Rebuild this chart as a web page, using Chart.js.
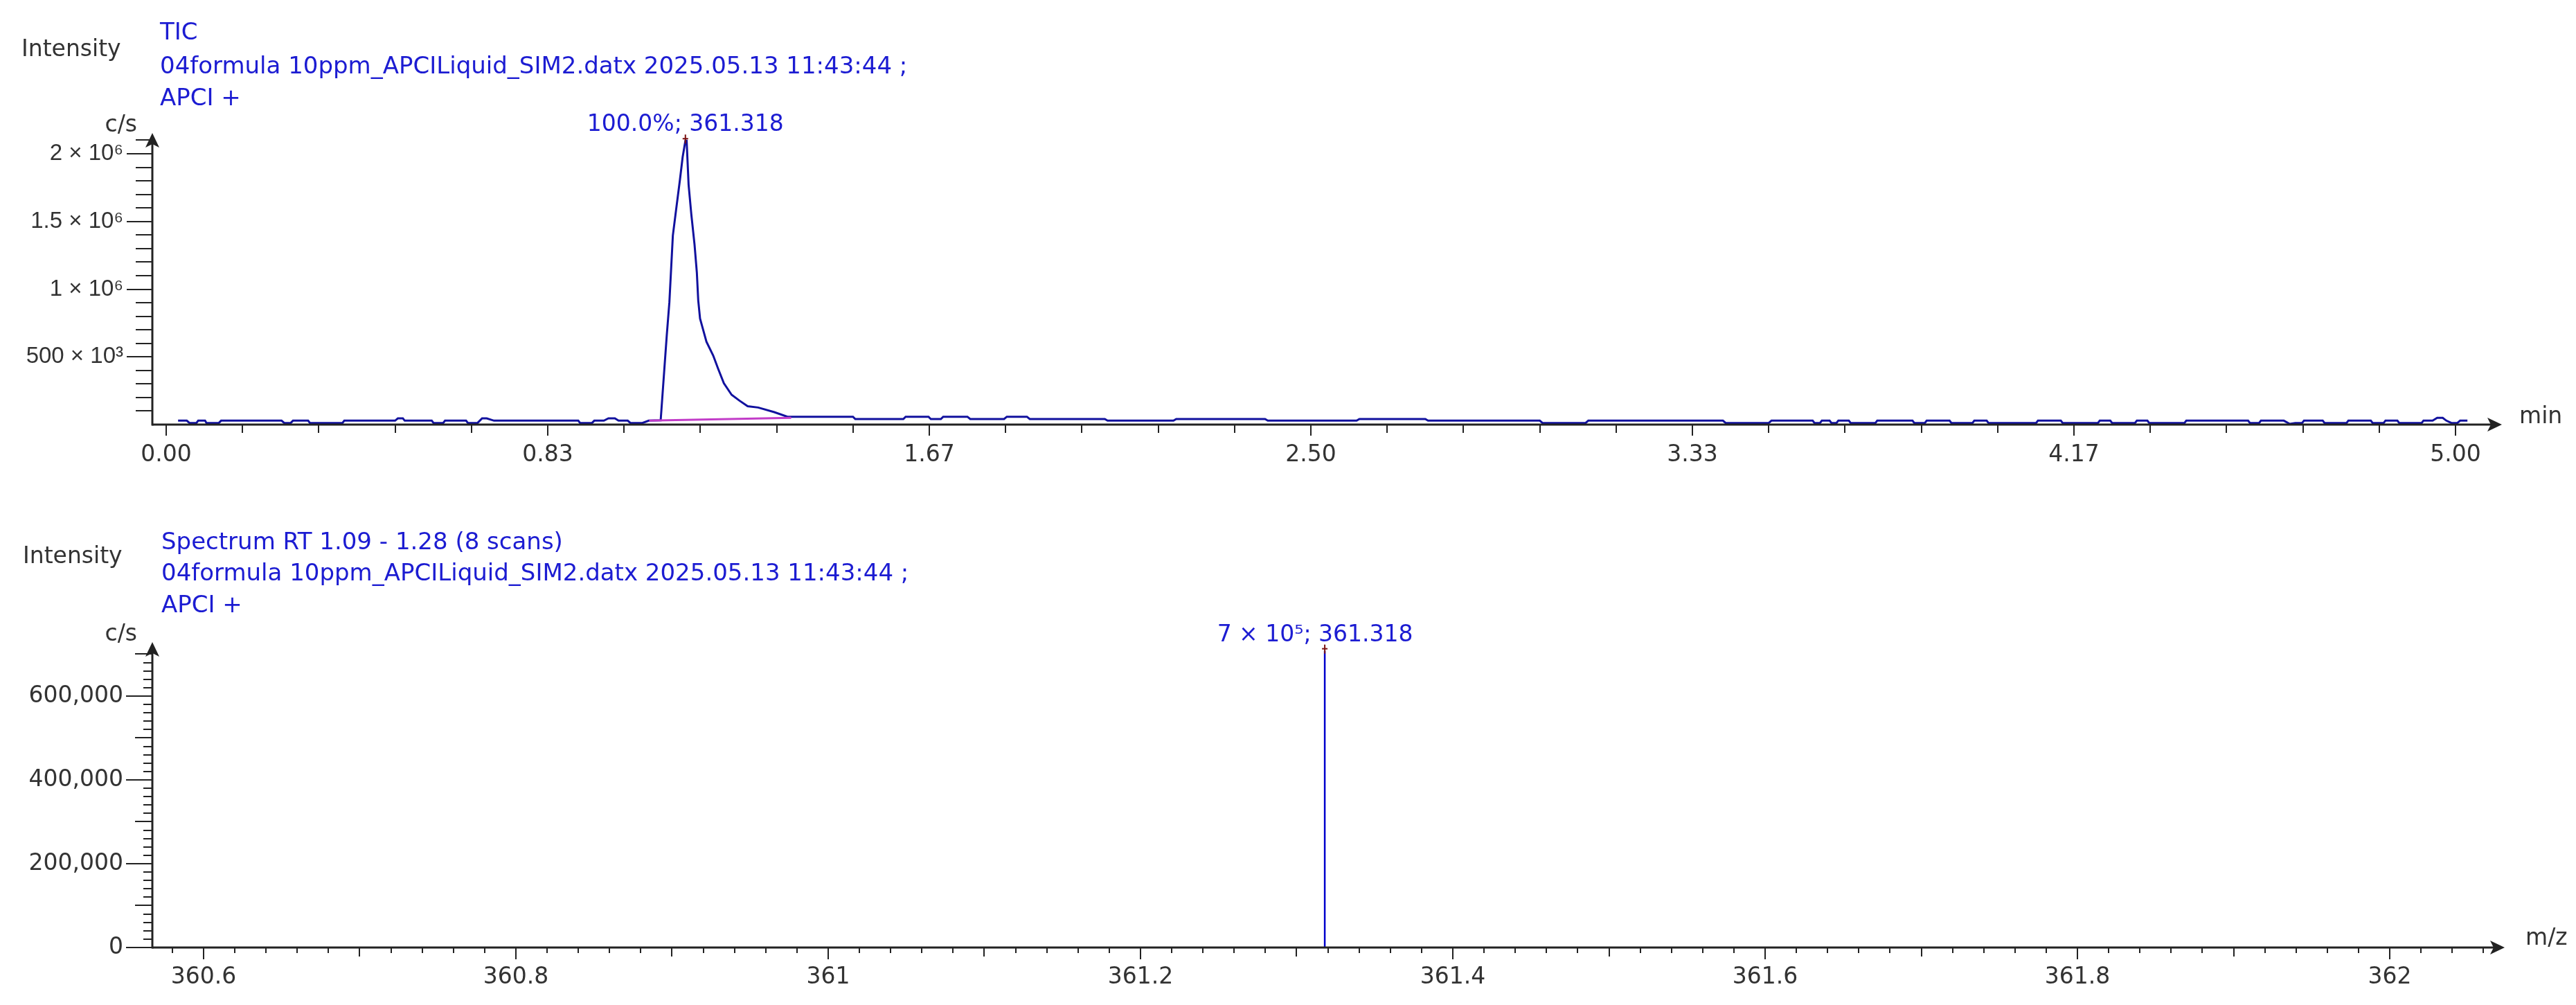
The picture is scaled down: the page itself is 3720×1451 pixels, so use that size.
<!DOCTYPE html>
<html><head><meta charset="utf-8">
<script src="https://cdn.jsdelivr.net/npm/chart.js@4.4.1/dist/chart.umd.min.js"></script>
<style>
html,body{margin:0;padding:0;background:#fff;}
#wrap{position:relative;width:3720px;height:1451px;background:#fff;}
.box{position:absolute;left:0;width:3720px;}
</style></head><body>
<div id="wrap">
<div class="box" style="top:0;height:700px"><canvas id="c1" width="3720" height="700"></canvas></div>
<div class="box" style="top:700px;height:751px"><canvas id="c2" width="3720" height="751"></canvas></div>
</div>
<script>
// ---------------- DATA ----------------
// TIC chromatogram (retention time in min, intensity in c/s)
const ticTime = [
0.026,0.045,0.051,0.066,0.070,0.085,0.088,0.115,0.120,0.252,0.258,0.272,0.277,0.310,0.314,0.385,0.389,0.500,0.506,0.517,
0.521,0.580,0.584,0.605,0.609,0.655,0.659,0.680,0.690,0.700,0.716,0.900,0.904,0.930,0.935,0.956,0.966,0.980,0.988,1.008,
1.014,1.040,1.054,1.080,1.0876,1.0934,1.099,1.1066,1.1136,1.122,1.128,1.134,1.1367,1.141,1.147,1.154,1.159,1.162,1.166,1.1715,
1.180,1.1947,1.206,1.218,1.235,1.252,1.270,1.293,1.328,1.357,1.397,1.500,1.505,1.610,1.615,1.665,1.670,1.692,1.697,1.750,
1.756,1.830,1.836,1.880,1.886,2.050,2.056,2.200,2.206,2.400,2.406,2.600,2.606,2.750,2.756,3.000,3.006,3.100,3.106,3.400,
3.406,3.500,3.506,3.596,3.600,3.612,3.616,3.633,3.637,3.648,3.652,3.675,3.679,3.733,3.737,3.814,3.818,3.841,3.845,3.895,
3.899,3.945,3.949,3.976,3.980,4.084,4.088,4.138,4.142,4.219,4.223,4.246,4.250,4.300,4.304,4.327,4.331,4.408,4.412,4.547,
4.551,4.571,4.575,4.625,4.638,4.650,4.665,4.669,4.710,4.714,4.762,4.766,4.815,4.819,4.843,4.847,4.873,4.877,4.926,4.930,
4.950,4.960,4.972,4.980,4.991,5.004,5.010,5.026
];
const ticIntensity = [
29000,29000,12000,12000,29000,29000,12000,12000,29000,29000,12000,12000,29000,29000,12000,12000,29000,29000,46000,46000,
29000,29000,12000,12000,29000,29000,12000,12000,46000,46000,29000,29000,12000,12000,29000,29000,46000,46000,29000,29000,
12000,12000,29000,32000,390000,663000,902000,1396000,1584000,1806000,1976000,2096000,2096000,1771000,1550000,1328000,1124000,919000,783000,715000,
612000,510000,408000,305000,220000,177000,135000,126000,92000,58000,58000,58000,41000,41000,58000,58000,41000,41000,58000,58000,
41000,41000,58000,58000,41000,41000,29000,29000,41000,41000,29000,29000,41000,41000,29000,29000,12000,12000,29000,29000,
12000,12000,29000,29000,12000,12000,29000,29000,12000,12000,29000,29000,12000,12000,29000,29000,12000,12000,29000,29000,
12000,12000,29000,29000,12000,12000,29000,29000,12000,12000,29000,29000,12000,12000,29000,29000,12000,12000,29000,29000,
12000,12000,29000,29000,5000,12000,12000,29000,29000,12000,12000,29000,29000,12000,12000,29000,29000,12000,12000,29000,
29000,50000,50000,29000,12000,12000,29000,29000
];
// integration baseline under the TIC peak
const ticBaselineTime = [1.055, 1.365];
const ticBaselineIntensity = [30000, 50000];
const ticPeakLabel = '100.0%; 361.318';

// mass spectrum (m/z, intensity in c/s)
const spectrumMz = [361.318];
const spectrumIntensity = [708000];
const spectrumPeakLabel = '7 × 10⁵; 361.318';

// tick labels
const ticXLabels = ['0.00','0.83','1.67','2.50','3.33','4.17','5.00'];
const ticYLabels = ['500 × 10³','1 × 10⁶','1.5 × 10⁶','2 × 10⁶'];
const specXLabels = ['360.6','360.8','361','361.2','361.4','361.6','361.8','362'];
const specYLabels = ['0','200,000','400,000','600,000'];

// header texts
const ticHeader = ['TIC','04formula 10ppm_APCILiquid_SIM2.datx 2025.05.13 11:43:44 ;','APCI +'];
const specHeader = ['Spectrum RT 1.09 - 1.28 (8 scans)','04formula 10ppm_APCILiquid_SIM2.datx 2025.05.13 11:43:44 ;','APCI +'];

// ---------------- STYLE ----------------
const FONT = 'DejaVu Sans';
const FONT2 = 'Liberation Sans';
const axisColor = '#222222';
const labelColor = '#333333';
const titleBlue = '#1c1cd2';
const ticLineColor = '#11119e';
const specLineColor = '#0000cc';
const baselineColor = '#c23cc8';
const markerColor = '#7a1010';

Chart.defaults.font.family = FONT;
Chart.defaults.animation = false;

function decoPlugin(cfg){
  return {
    id: 'deco',
    afterDraw(chart){
      const ctx = chart.ctx, xs = chart.scales.x, ys = chart.scales.y, a = chart.chartArea;
      const y0 = ys.getPixelForValue(0);
      ctx.save();
      ctx.strokeStyle = axisColor; ctx.fillStyle = axisColor; ctx.lineCap = 'butt';
      // axis lines
      ctx.lineWidth = 3;
      ctx.beginPath(); ctx.moveTo(a.left, y0); ctx.lineTo(a.right - 6, y0); ctx.stroke();
      ctx.beginPath(); ctx.moveTo(a.left, y0 + 1.5); ctx.lineTo(a.left, a.top + 6); ctx.stroke();
      // arrowheads
      ctx.beginPath(); ctx.moveTo(a.left, a.top); ctx.lineTo(a.left - 10, a.top + 21); ctx.lineTo(a.left, a.top + 16); ctx.lineTo(a.left + 10, a.top + 21); ctx.closePath(); ctx.fill();
      ctx.beginPath(); ctx.moveTo(a.right, y0); ctx.lineTo(a.right - 21, y0 - 10); ctx.lineTo(a.right - 16, y0); ctx.lineTo(a.right - 21, y0 + 10); ctx.closePath(); ctx.fill();
      // tick marks
      ctx.lineWidth = 2;
      xs.ticks.forEach(t => {
        const px = Math.round(xs.getPixelForValue(t.value));
        const L = cfg.xLen(t.value);
        ctx.beginPath(); ctx.moveTo(px, y0); ctx.lineTo(px, y0 + L); ctx.stroke();
      });
      ys.ticks.forEach(t => {
        const py = Math.round(ys.getPixelForValue(t.value));
        const L = cfg.yLen(t.value);
        ctx.beginPath(); ctx.moveTo(a.left - L, py); ctx.lineTo(a.left, py); ctx.stroke();
      });
      // texts
      ctx.textBaseline = 'middle';
      ctx.font = '33px "' + FONT + '"';
      ctx.fillStyle = labelColor;
      ctx.textAlign = 'left';
      ctx.fillText('Intensity', cfg.intensityPos[0], cfg.intensityPos[1]);
      ctx.textAlign = 'right';
      ctx.fillText('c/s', cfg.unitYPos[0], cfg.unitYPos[1]);
      ctx.textAlign = 'left';
      ctx.fillText(cfg.unitX, cfg.unitXPos[0], cfg.unitXPos[1]);
      ctx.fillStyle = titleBlue;
      ctx.font = '34px "' + FONT + '"';
      cfg.header.forEach((s, i) => ctx.fillText(s, cfg.headerX, cfg.headerY[i]));
      // peak annotation
      const vals = cfg.peakY; let mi = 0;
      vals.forEach((v, i) => { if (v > vals[mi]) mi = i; });
      const px = xs.getPixelForValue(cfg.peakX[mi]);
      const py = ys.getPixelForValue(vals[mi]);
      ctx.strokeStyle = markerColor; ctx.lineWidth = 2;
      ctx.beginPath(); ctx.moveTo(px, py - 9); ctx.lineTo(px, py + 4); ctx.stroke();
      ctx.beginPath(); ctx.moveTo(px - 4, py - 3); ctx.lineTo(px + 4, py - 3); ctx.stroke();
      ctx.fillStyle = titleBlue;
      ctx.font = '33px "' + FONT + '"';
      ctx.textAlign = 'center'; ctx.textBaseline = 'bottom';
      ctx.fillText(cfg.peakLabel, px + cfg.peakLabelDx, py - 6);
      ctx.restore();
    }
  };
}

function tickFont(){ return {family: FONT, size: 33}; }

// ---------------- TOP: TIC ----------------
const ticPoints = ticTime.map((t, i) => ({x: t, y: ticIntensity[i]}));
const ticBasePoints = ticBaselineTime.map((t, i) => ({x: t, y: ticBaselineIntensity[i]}));

new Chart(document.getElementById('c1'), {
  type: 'line',
  data: { datasets: [
    {data: ticBasePoints, borderColor: baselineColor, borderWidth: 3, pointRadius: 0, tension: 0},
    {data: ticPoints, borderColor: ticLineColor, borderWidth: 3, pointRadius: 0, tension: 0}
  ]},
  options: {
    responsive: false, devicePixelRatio: 1,
    layout: {padding: {top: 192, right: 107, left: 0, bottom: 0}},
    plugins: {legend: {display: false}, tooltip: {enabled: false}},
    scales: {
      x: {
        type: 'linear', min: -0.0302, max: 5.1013,
        grid: {display: false, drawTicks: false}, border: {display: false},
        ticks: {font: tickFont(), color: labelColor, padding: 25, autoSkip: false, maxRotation: 0, minRotation: 0,
          callback: v => { const k = Math.round(v * 6); return (k % 5 === 0) ? ticXLabels[k / 5] : ''; }},
        afterBuildTicks: s => { const t = []; for (let k = 0; k <= 30; k++) t.push({value: k / 6}); s.ticks = t; },
        afterFit: s => { s.height = 87; }
      },
      y: {
        type: 'linear', min: 0, max: 2153500,
        grid: {display: false, drawTicks: false}, border: {display: false},
        ticks: {font: {family: FONT2, size: 33}, color: labelColor, padding: 42, autoSkip: false,
          callback: v => { const k = Math.round(v / 100000); return (k % 5 === 0 && k > 0) ? ticYLabels[k / 5 - 1] : ''; }},
        afterBuildTicks: s => { const t = []; for (let k = 1; k <= 21; k++) t.push({value: k * 100000}); s.ticks = t; },
        afterFit: s => { s.width = 220; }
      }
    }
  },
  plugins: [decoPlugin({
    xLen: v => (Math.round(v * 6) % 5 === 0 ? 16 : 12),
    yLen: v => (Math.round(v / 100000) % 5 === 0 ? 37 : 24),
    intensityPos: [31, 72], unitYPos: [198, 181], unitX: 'min', unitXPos: [3638, 602],
    header: ticHeader, headerX: 231, headerY: [48, 97, 143],
    peakX: ticTime, peakY: ticIntensity, peakLabel: ticPeakLabel, peakLabelDx: 0
  })]
});

// ---------------- BOTTOM: SPECTRUM ----------------
const specPoints = [];
spectrumMz.forEach((m, i) => { specPoints.push({x: m, y: 0}, {x: m, y: spectrumIntensity[i]}, {x: m, y: null}); });

new Chart(document.getElementById('c2'), {
  type: 'line',
  data: { datasets: [
    {data: specPoints, borderColor: specLineColor, borderWidth: 2.5, pointRadius: 0, tension: 0, spanGaps: false}
  ]},
  options: {
    responsive: false, devicePixelRatio: 1,
    layout: {padding: {top: 227, right: 103, left: 0, bottom: 0}},
    plugins: {legend: {display: false}, tooltip: {enabled: false}},
    scales: {
      x: {
        type: 'linear', min: 360.5672, max: 362.0736,
        grid: {display: false, drawTicks: false}, border: {display: false},
        ticks: {font: tickFont(), color: labelColor, padding: 24, autoSkip: false, maxRotation: 0, minRotation: 0,
          callback: v => { const k = Math.round((v - 360.6) / 0.02); return (k % 10 === 0 && k >= 0) ? specXLabels[k / 10] : ''; }},
        afterBuildTicks: s => { const t = []; for (let k = -1; k <= 73; k++) t.push({value: 360.6 + k * 0.02}); s.ticks = t; },
        afterFit: s => { s.height = 83; }
      },
      y: {
        type: 'linear', min: 0, max: 728900,
        grid: {display: false, drawTicks: false}, border: {display: false},
        ticks: {font: tickFont(), color: labelColor, padding: 42, autoSkip: false,
          callback: v => { const k = Math.round(v / 20000); return (k % 10 === 0) ? specYLabels[k / 10] : ''; }},
        afterBuildTicks: s => { const t = []; for (let k = 0; k <= 35; k++) t.push({value: k * 20000}); s.ticks = t; },
        afterFit: s => { s.width = 220; }
      }
    }
  },
  plugins: [decoPlugin({
    xLen: v => { const k = Math.round((v - 360.6) / 0.02); return k % 10 === 0 ? 17 : (k % 5 === 0 ? 13 : 8); },
    yLen: v => { const k = Math.round(v / 20000); return k % 10 === 0 ? 38 : (k % 5 === 0 ? 25 : 13); },
    intensityPos: [33, 104], unitYPos: [198, 216], unitX: 'm/z', unitXPos: [3647, 655],
    header: specHeader, headerX: 233, headerY: [84, 129, 175],
    peakX: spectrumMz, peakY: spectrumIntensity, peakLabel: spectrumPeakLabel, peakLabelDx: -14
  })]
});
</script>
</body></html>
